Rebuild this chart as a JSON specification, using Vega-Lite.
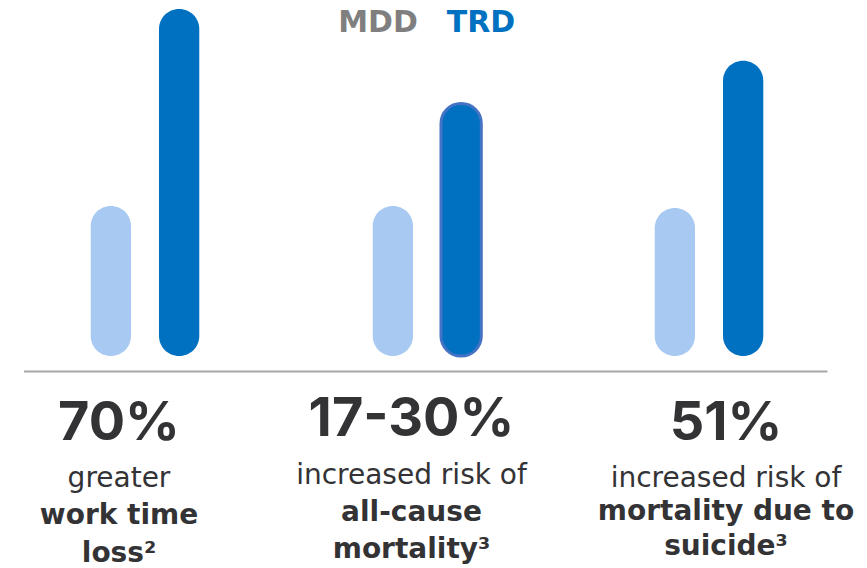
{
  "$schema": "https://vega.github.io/schema/vega-lite/v6.json",
  "width": 867,
  "height": 568,
  "autosize": {"type": "fit", "contains": "padding"},
  "padding": {"left": 4, "right": 16, "top": 0, "bottom": 0},
  "background": "#ffffff",
  "config": {
    "view": {"stroke": null},
    "font": "DejaVu Sans",
    "text": {"font": "DejaVu Sans", "color": "#333336", "lineBreak": "\n"}
  },
  "datasets": {
    "bars": [
      {"group": "work time loss", "series": "MDD", "value": 151},
      {"group": "work time loss", "series": "TRD", "value": 349},
      {"group": "all-cause mortality", "series": "MDD", "value": 151},
      {"group": "all-cause mortality", "series": "TRD", "value": 254},
      {"group": "mortality due to suicide", "series": "MDD", "value": 149},
      {"group": "mortality due to suicide", "series": "TRD", "value": 297}
    ],
    "labels": [
      {"group": "work time loss", "big": "70%", "intro": "greater", "bold": "work time\nloss²"},
      {"group": "all-cause mortality", "big": "17-30%", "intro": "increased risk of", "bold": "all-cause\nmortality³"},
      {"group": "mortality due to suicide", "big": "51%", "intro": "increased risk of", "bold": "mortality due to\nsuicide³"}
    ],
    "baseline": [
      {"from": "work time loss", "to": "mortality due to suicide"}
    ]
  },
  "layer": [
    {
      "data": {"name": "bars"},
      "mark": {"type": "bar", "cornerRadius": 20},
      "encoding": {
        "x": {
          "field": "group", "type": "nominal", "axis": null,
          "scale": {"domain": ["work time loss", "all-cause mortality", "mortality due to suicide"], "paddingInner": 0, "paddingOuter": 0}
        },
        "xOffset": {
          "field": "series", "type": "nominal",
          "scale": {"domain": ["_l", "MDD", "TRD", "_r"], "paddingInner": 0.41, "paddingOuter": 0.27}
        },
        "y": {
          "field": "value", "type": "quantitative", "axis": null,
          "scale": {"domain": [-210, 358], "nice": false, "zero": false}
        },
        "y2": {"datum": 0},
        "color": {
          "field": "series", "type": "nominal",
          "scale": {"domain": ["MDD", "TRD"], "range": ["#A8CAF2", "#0070C0"]},
          "legend": null
        },
        "stroke": {
          "condition": {"test": "datum.group === 'all-cause mortality' && datum.series === 'TRD'", "value": "#4472C4"},
          "value": null
        },
        "strokeWidth": {
          "condition": {"test": "datum.group === 'all-cause mortality' && datum.series === 'TRD'", "value": 3},
          "value": 0
        }
      }
    },
    {
      "data": {"name": "baseline"},
      "mark": {"type": "rule", "color": "#A6A6A6", "strokeWidth": 2},
      "encoding": {
        "x": {"field": "from", "type": "nominal", "axis": null, "bandPosition": 0.0708},
        "x2": {"field": "to", "bandPosition": 0.92},
        "y": {"datum": -15.5}
      }
    },
    {
      "data": {"name": "labels"},
      "transform": [{"filter": "datum.group === 'all-cause mortality'"}],
      "layer": [
        {"mark": {"type": "text", "fontSize": 30, "fontWeight": "bold", "baseline": "alphabetic", "color": "#7F7F7F", "dx": -49},
         "encoding": {"x": {"field": "group", "type": "nominal", "axis": null}, "y": {"datum": 326}, "text": {"value": "MDD"}}},
        {"mark": {"type": "text", "fontSize": 30, "fontWeight": "bold", "baseline": "alphabetic", "color": "#0070C0", "dx": 54},
         "encoding": {"x": {"field": "group", "type": "nominal", "axis": null}, "y": {"datum": 326}, "text": {"value": "TRD"}}}
      ]
    },
    {
      "data": {"name": "labels"},
      "transform": [{"filter": "datum.group === 'work time loss'"}],
      "layer": [
        {"mark": {"type": "text", "font": "Inter", "fontSize": 54, "fontWeight": "bold", "baseline": "alphabetic", "dx": -26},
         "encoding": {"x": {"field": "group", "type": "nominal", "axis": null}, "y": {"datum": -84}, "text": {"field": "big"}}},
        {"mark": {"type": "text", "fontSize": 28, "fontWeight": "normal", "baseline": "alphabetic", "dx": -26},
         "encoding": {"x": {"field": "group", "type": "nominal", "axis": null}, "y": {"datum": -132}, "text": {"field": "intro"}}},
        {"mark": {"type": "text", "fontSize": 28, "fontWeight": "bold", "baseline": "alphabetic", "lineHeight": 38, "dx": -26},
         "encoding": {"x": {"field": "group", "type": "nominal", "axis": null}, "y": {"datum": -169}, "text": {"field": "bold"}}}
      ]
    },
    {
      "data": {"name": "labels"},
      "transform": [{"filter": "datum.group === 'all-cause mortality'"}],
      "layer": [
        {"mark": {"type": "text", "font": "Inter", "fontSize": 54, "fontWeight": "bold", "baseline": "alphabetic", "dx": -15.5},
         "encoding": {"x": {"field": "group", "type": "nominal", "axis": null}, "y": {"datum": -80}, "text": {"field": "big"}}},
        {"mark": {"type": "text", "fontSize": 28, "fontWeight": "normal", "baseline": "alphabetic", "dx": -15.5},
         "encoding": {"x": {"field": "group", "type": "nominal", "axis": null}, "y": {"datum": -129}, "text": {"field": "intro"}}},
        {"mark": {"type": "text", "fontSize": 28, "fontWeight": "bold", "baseline": "alphabetic", "lineHeight": 37, "dx": -15.5},
         "encoding": {"x": {"field": "group", "type": "nominal", "axis": null}, "y": {"datum": -166}, "text": {"field": "bold"}}}
      ]
    },
    {
      "data": {"name": "labels"},
      "transform": [{"filter": "datum.group === 'mortality due to suicide'"}],
      "layer": [
        {"mark": {"type": "text", "font": "Inter", "fontSize": 54, "fontWeight": "bold", "baseline": "alphabetic", "dx": 17},
         "encoding": {"x": {"field": "group", "type": "nominal", "axis": null}, "y": {"datum": -84}, "text": {"field": "big"}}},
        {"mark": {"type": "text", "fontSize": 28, "fontWeight": "normal", "baseline": "alphabetic", "dx": 17},
         "encoding": {"x": {"field": "group", "type": "nominal", "axis": null}, "y": {"datum": -132}, "text": {"field": "intro"}}},
        {"mark": {"type": "text", "fontSize": 28, "fontWeight": "bold", "baseline": "alphabetic", "lineHeight": 35, "dx": 17},
         "encoding": {"x": {"field": "group", "type": "nominal", "axis": null}, "y": {"datum": -165}, "text": {"field": "bold"}}}
      ]
    }
  ]
}
